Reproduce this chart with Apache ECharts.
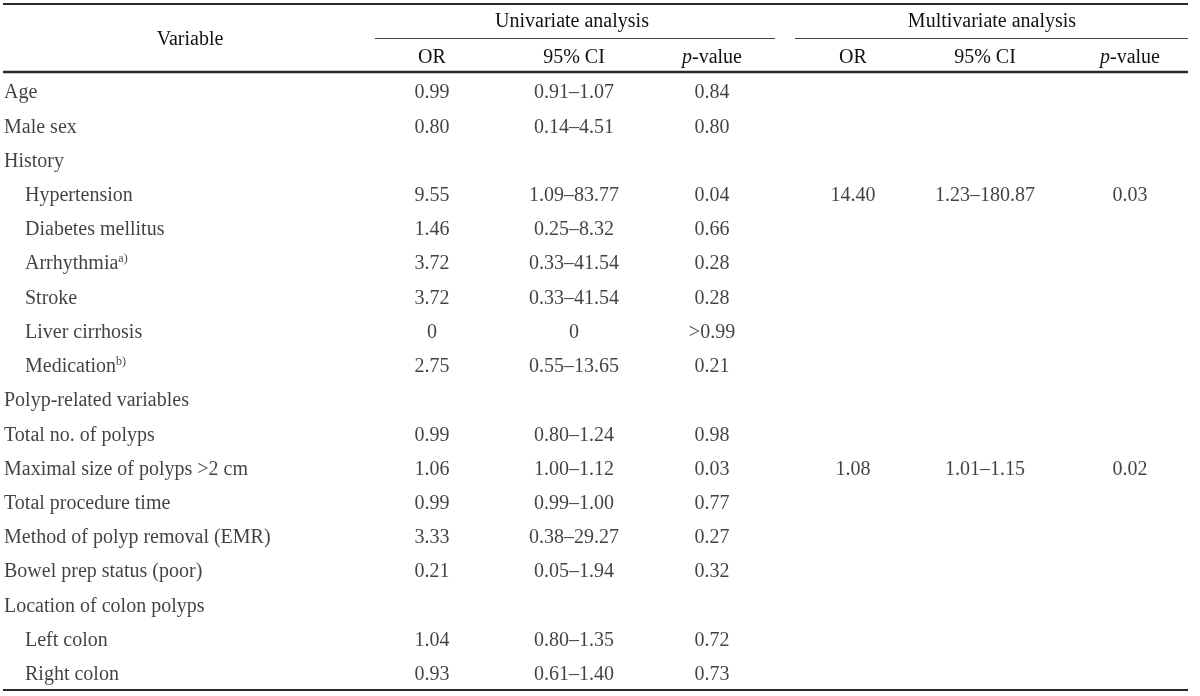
<!DOCTYPE html>
<html><head><meta charset="utf-8">
<script src="https://cdn.jsdelivr.net/npm/echarts@6/dist/echarts.min.js"></script>
<style>html,body{margin:0;padding:0;background:#fff}#c{width:1200px;height:696px}</style>
</head><body><div id="c"></div>
<script>
// ---- data ----
const variables = ['Age','Male sex','History','Hypertension','Diabetes mellitus','Arrhythmia{sup|a)}','Stroke','Liver cirrhosis','Medication{sup|b)}','Polyp-related variables','Total no. of polyps','Maximal size of polyps >2 cm','Total procedure time','Method of polyp removal (EMR)','Bowel prep status (poor)','Location of colon polyps','Left colon','Right colon'];
const subItem = [0,0,0,1,1,1,1,1,1,0,0,0,0,0,0,0,1,1];
const univOR = [0.99,0.80,null,9.55,1.46,3.72,3.72,0,2.75,null,0.99,1.06,0.99,3.33,0.21,null,1.04,0.93];
const univCI = ['0.91–1.07','0.14–4.51','','1.09–83.77','0.25–8.32','0.33–41.54','0.33–41.54','0','0.55–13.65','','0.80–1.24','1.00–1.12','0.99–1.00','0.38–29.27','0.05–1.94','','0.80–1.35','0.61–1.40'];
const univP = ['0.84','0.80','','0.04','0.66','0.28','0.28','>0.99','0.21','','0.98','0.03','0.77','0.27','0.32','','0.72','0.73'];
const multiOR = [null,null,null,14.40,null,null,null,null,null,null,null,1.08,null,null,null,null,null,null];
const multiCI = ['','','','1.23–180.87','','','','','','','','1.01–1.15','','','','','',''];
const multiP = ['','','','0.03','','','','','','','','0.02','','','','','',''];
const groupHeaders = ['Univariate analysis','Multivariate analysis'];
const colHeaders = ['OR','95% CI','{i|p}-value'];

// ---- layout ----
const FONT = 'Liberation Serif';
const FS = 20;
const COLOR = '#111111';
const colX = {var:4, sub:25, uOR:432, uCI:574, uP:712, mOR:853, mCI:985, mP:1130};
const rowKeys = variables.map((v,i)=>'r'+i);
const fmt = v => v===null ? '' : (v===0 ? '0' : v.toFixed(2));

const rich = {
  sup:{fontFamily:FONT,fontSize:12,color:COLOR,padding:[0,0,10,0]},
  i:{fontFamily:FONT,fontSize:FS,fontStyle:'italic',color:COLOR}
};
function pts(xKey, texts, align){
  return texts.map((t,i)=>({value:[typeof xKey==='function'?xKey(i):colX[xKey], rowKeys[i]], label:{formatter:t, align:align}})).filter(d=>d.label.formatter!=='');
}
const baseLabel = {show:true,position:'inside',fontFamily:FONT,fontSize:FS,color:COLOR,rich:rich};
const mk = (data)=>({type:'scatter',symbolSize:0,silent:true,label:baseLabel,data:data,animation:false});

const series = [
  mk(pts(i=>subItem[i]?colX.sub:colX.var, variables, 'left')),
  mk(pts('uOR', univOR.map(fmt), 'center')),
  mk(pts('uCI', univCI, 'center')),
  mk(pts('uP', univP, 'center')),
  mk(pts('mOR', multiOR.map(fmt), 'center')),
  mk(pts('mCI', multiCI, 'center')),
  mk(pts('mP', multiP, 'center'))
];

const line = (x1,y1,x2,y2,w,c)=>({type:'line',shape:{x1,y1,x2,y2},style:{stroke:c||'#2a2a2a',lineWidth:w},silent:true});
const txt = (x,y,t)=>({type:'text',x,y,style:{text:t,fontFamily:FONT,fontSize:FS,fill:COLOR,align:'center',verticalAlign:'middle',rich:rich}});
const subX = [[colX.uOR,colX.uCI,colX.uP],[colX.mOR,colX.mCI,colX.mP]];
const graphic = [
  line(3,4,1188,4,2),
  line(375,38.5,775,38.5,1,'#444'),
  line(795,38.5,1188,38.5,1,'#444'),
  line(3,72,1188,72,2.5),
  line(3,690,1188,690,2),
  txt(190,40,'Variable'),
  txt(572,22,groupHeaders[0]),
  txt(992,22,groupHeaders[1])
];
subX.forEach(g=>g.forEach((x,j)=>graphic.push(txt(x,58,colHeaders[j]))));

const chart = echarts.init(document.getElementById('c'),null,{renderer:'canvas'});
chart.setOption({
  backgroundColor:'#fff',
  animation:false,
  grid:{left:0,right:0,top:76,bottom:4},
  xAxis:{type:'value',min:0,max:1200,show:false},
  yAxis:{type:'category',data:rowKeys,inverse:true,show:false},
  series:series,
  graphic:graphic
});
</script></body></html>
